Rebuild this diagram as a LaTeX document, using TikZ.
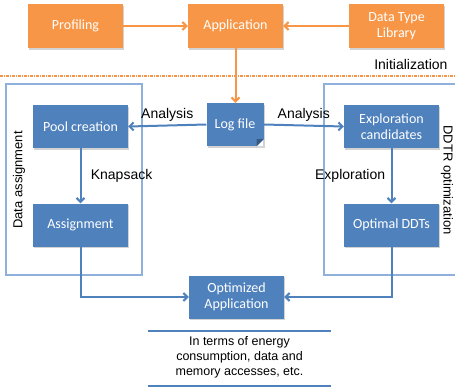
\documentclass[tikz,border=0pt]{standalone}
\usepackage{fontspec}
\setmainfont{Liberation Sans}
\newfontfamily\boxfont{Carlito}
\usetikzlibrary{positioning,shadows,arrows.meta}
\definecolor{initorange}{HTML}{F79646}
\definecolor{stepblue}{HTML}{4F81BD}
\definecolor{frameblue}{HTML}{8EB0DA}

\begin{document}
\begin{tikzpicture}[x=1pt, y=-1pt,
    obox/.style={fill=initorange, inner sep=0pt, minimum width=95pt, minimum height=44pt,
        text=white, align=center, font=\boxfont\fontsize{14}{16}\selectfont,
        drop shadow={opacity=0.35, shadow xshift=1pt, shadow yshift=-1.5pt}},
    bbox/.style={obox, fill=stepblue, minimum height=43pt},
    oarrow/.style={initorange, line width=2pt, -{Straight Barb[length=4pt,width=8pt]}},
    barrow/.style={stepblue, line width=2pt, -{Straight Barb[length=4pt,width=8pt]}},
    lbl/.style={text=black, font=\fontsize{14}{16}\selectfont}]
    \useasboundingbox (0,0) rectangle (455,388);

    % initialization
    \node[obox] (prof) at (75.5,26) {Profiling};
    \node[obox] (app) at (235.5,26) {Application};
    \node[obox] (dtl) at (396.5,26) {Data Type\\Library};
    \draw[oarrow] (prof) -- (app);
    \draw[oarrow] (dtl) -- (app);
    \node[lbl, anchor=east] (init) at (451,64) {Initialization};
    \draw[initorange, line width=1.5pt, dash pattern=on 3pt off 1pt on 1pt off 1pt] (0,76) -- (455,76);

    % frames
    \draw[frameblue, line width=1.2pt] (6,84) rectangle (142,275);
    \draw[frameblue, line width=1.2pt] (324,84) rectangle (462,275);
    \node[lbl, rotate=90, font=\fontsize{13}{15}\selectfont] (dalbl) at (19,180) {Data assignment};
    \node[lbl, rotate=-90, font=\fontsize{13}{15}\selectfont] (ddtrlbl) at (447,180) {DDTR optimization};

    % steps
    \node[bbox, minimum width=57pt] (log) at (235,124.5) {Log file};
    \fill[white] (log.south east) -- ([xshift=-7pt]log.south east) -- ([yshift=7pt]log.south east) -- cycle;
    \fill[stepblue!70!black] ([xshift=-7pt]log.south east) -- ([yshift=7pt]log.south east)
        -- ([xshift=-7pt,yshift=7pt]log.south east) -- cycle;
    \node[bbox] (pool) at (80.5,126.5) {Pool creation};
    \node[bbox] (assign) at (80.5,225) {Assignment};
    \node[bbox] (expl) at (391.5,126.5) {Exploration\\candidates};
    \node[bbox] (ddt) at (391.5,225) {Optimal DDTs};
    \node[bbox] (opt) at (236.5,297) {Optimized\\Application};

    \draw[oarrow] (app.south) -- (app.south |- log.north);
    \draw[barrow] (log.west) -- node[lbl, above] {Analysis} (pool.east);
    \draw[barrow] (log.east) -- node[lbl, above] {Analysis} (expl.west);
    \draw[barrow] (pool) -- node[lbl, right=6pt] {Knapsack} (assign);
    \draw[barrow] (expl) -- node[lbl, left=2pt] {Exploration} (ddt);
    \draw[barrow] (assign.south) |- (opt.west);
    \draw[barrow] (ddt.south) |- (opt.east);

    % result note
    \draw[stepblue, line width=1.6pt] (148,331) -- (331,331);
    \draw[stepblue, line width=1.6pt] (148,386) -- (331,386);
    \node[align=center, font=\fontsize{12.5}{15}\selectfont] (note) at (239.5,357.5)
        {In terms of energy\\consumption, data and\\memory accesses, etc.};
\end{tikzpicture}
\end{document}
